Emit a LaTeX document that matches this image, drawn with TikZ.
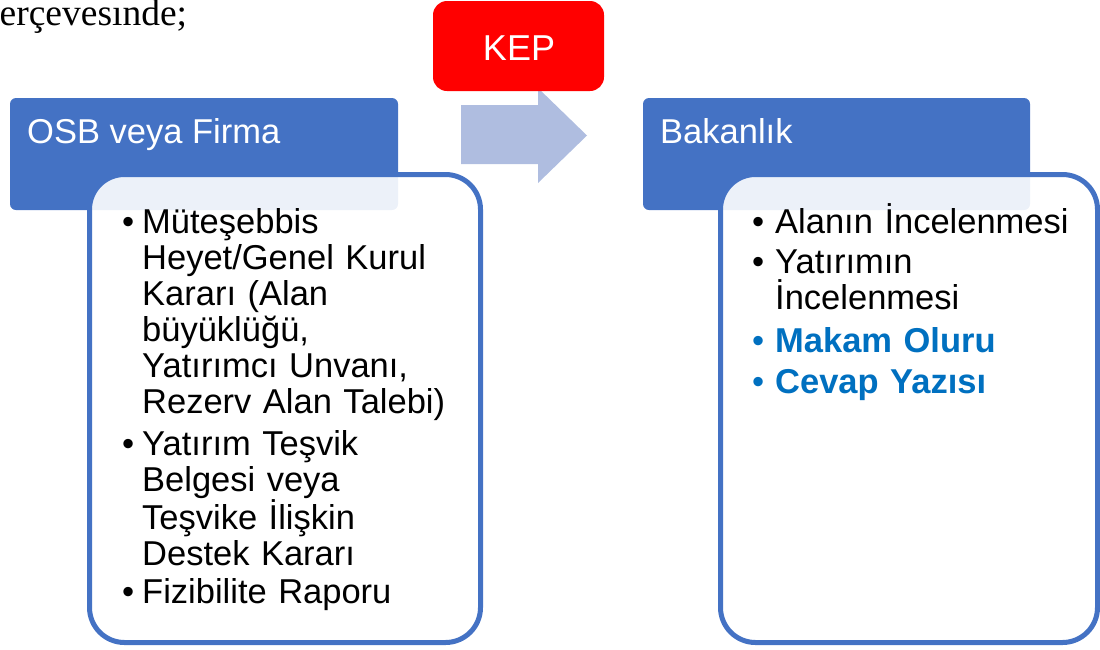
\documentclass[tikz,border=0pt]{standalone}
\usepackage{fontspec}
\setmainfont{Liberation Sans}
\newfontfamily\timesfont{Liberation Serif}
\usetikzlibrary{positioning}
\definecolor{hdrblue}{HTML}{4472C4}
\definecolor{arrowblue}{HTML}{AFBDE0}
\definecolor{kepred}{HTML}{FF0000}
\definecolor{itemblue}{HTML}{0070C0}

\begin{document}
\begin{tikzpicture}[
      x=1pt, y=-1pt,
      header/.style={fill=hdrblue, rounded corners=6pt},
      content/.style={draw=hdrblue, line width=5pt, fill=white, fill opacity=0.9, rounded corners=35pt},
      hdrtext/.style={anchor=base west, inner sep=0pt, text=white, font=\fontsize{34.5}{36}\selectfont},
      item/.style={anchor=base west, inner sep=0pt, text width=340pt, align=left, font=\fontsize{34.5}{36}\selectfont},
      keyitem/.style={item, text=itemblue, font=\fontsize{34.5}{36}\selectfont\bfseries},
      dot/.style={anchor=base west, inner sep=0pt, font=\fontsize{34.5}{36}\selectfont}
      ]
      \useasboundingbox (0,0) rectangle (1100,649);
      % text cut off at the top of the page
      \node[anchor=base west, inner sep=0pt, font=\timesfont\fontsize{37.5}{40}\selectfont] (intro) at (-0.5,25.5) {erçevesınde;};
      % arrow with the KEP label
      \fill[arrowblue] (461,105) -- (538,105) -- (538,88) -- (587,135.5) -- (538,183) -- (538,164) -- (461,164) -- cycle;
      \fill[kepred, rounded corners=14pt] (433,1) rectangle (604,91);
      \node[anchor=base, inner sep=0pt, text=white, font=\fontsize{36}{40}\selectfont] (kep) at (519,60) {KEP};
      % left block
      \fill[header] (10,98) rectangle (398,210);
      \node[hdrtext] (osb) at (27,143) {OSB veya Firma};
      \filldraw[content] (89.5,174.5) rectangle (480.5,642.5);
      \node[dot] (osbAb) at (122,233) {•};
      \node[item] (osbA) at (142,233) {Müteşebbis\\Heyet/Genel Kurul\\Kararı (Alan\\büyüklüğü,\\Yatırımcı Unvanı,\\Rezerv Alan Talebi)};
      \node[dot] (osbBb) at (122,455) {•};
      \node[item] (osbB) at (142,455) {Yatırım Teşvik\\Belgesi veya\\Teşvike İlişkin\\Destek Kararı};
      \node[dot] (osbCb) at (122,603) {•};
      \node[item] (osbC) at (142,603) {Fizibilite Raporu};
      % right block
      \fill[header] (643,98) rectangle (1030,210);
      \node[hdrtext] (bak) at (660,143) {Bakanlık};
      \filldraw[content] (720.5,174.5) rectangle (1097.5,642.5);
      \node[dot] (bakAb) at (752,233) {•};
      \node[item] (bakA) at (775,233) {Alanın İncelenmesi};
      \node[dot] (bakBb) at (752,273) {•};
      \node[item] (bakB) at (775,273) {Yatırımın\\İncelenmesi};
      \node[dot, text=itemblue] (bakCb) at (752,352) {•};
      \node[keyitem] (bakC) at (775,352) {Makam Oluru};
      \node[dot, text=itemblue] (bakDb) at (752,393) {•};
      \node[keyitem] (bakD) at (775,393) {Cevap Yazısı};
    \end{tikzpicture}
\end{document}
